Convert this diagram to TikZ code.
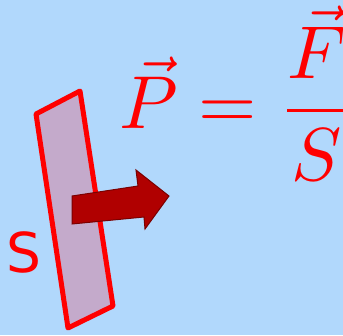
\documentclass[tikz,border=0pt]{standalone}
\usepackage{amsmath}
\usepackage{fontspec}
\newfontfamily\labelfont{DejaVu Sans}
\definecolor{skyback}{HTML}{B1D8FC}
\definecolor{platefill}{HTML}{C4AACB}
\definecolor{forcered}{HTML}{B00000}
\definecolor{forceedge}{HTML}{7A0000}
\begin{document}
\begin{tikzpicture}[x=1pt,y=1pt]
\fill[skyback] (0,0) rectangle (343,335);
\useasboundingbox (0,0) rectangle (343,335);
% surface
\draw[red,line width=5pt,line join=round,fill=platefill] (36,221) -- (80,244) -- (113,29) -- (68,7) -- cycle;
% force arrow
\draw[forceedge,line width=1pt,fill=forcered] (72,139) -- (138,149) -- (136,165) -- (169,139) -- (145,106) -- (144,118) -- (72,111) -- cycle;
\node[red,inner sep=0pt] (surf) at (24,83) {\labelfont\fontsize{55}{60}\selectfont S};
\node[red,inner sep=0pt,anchor=base west,scale=7.5] (law) at (118,206) {$\vec{P}=\dfrac{\vec{F}}{S}$};
\end{tikzpicture}
\end{document}
